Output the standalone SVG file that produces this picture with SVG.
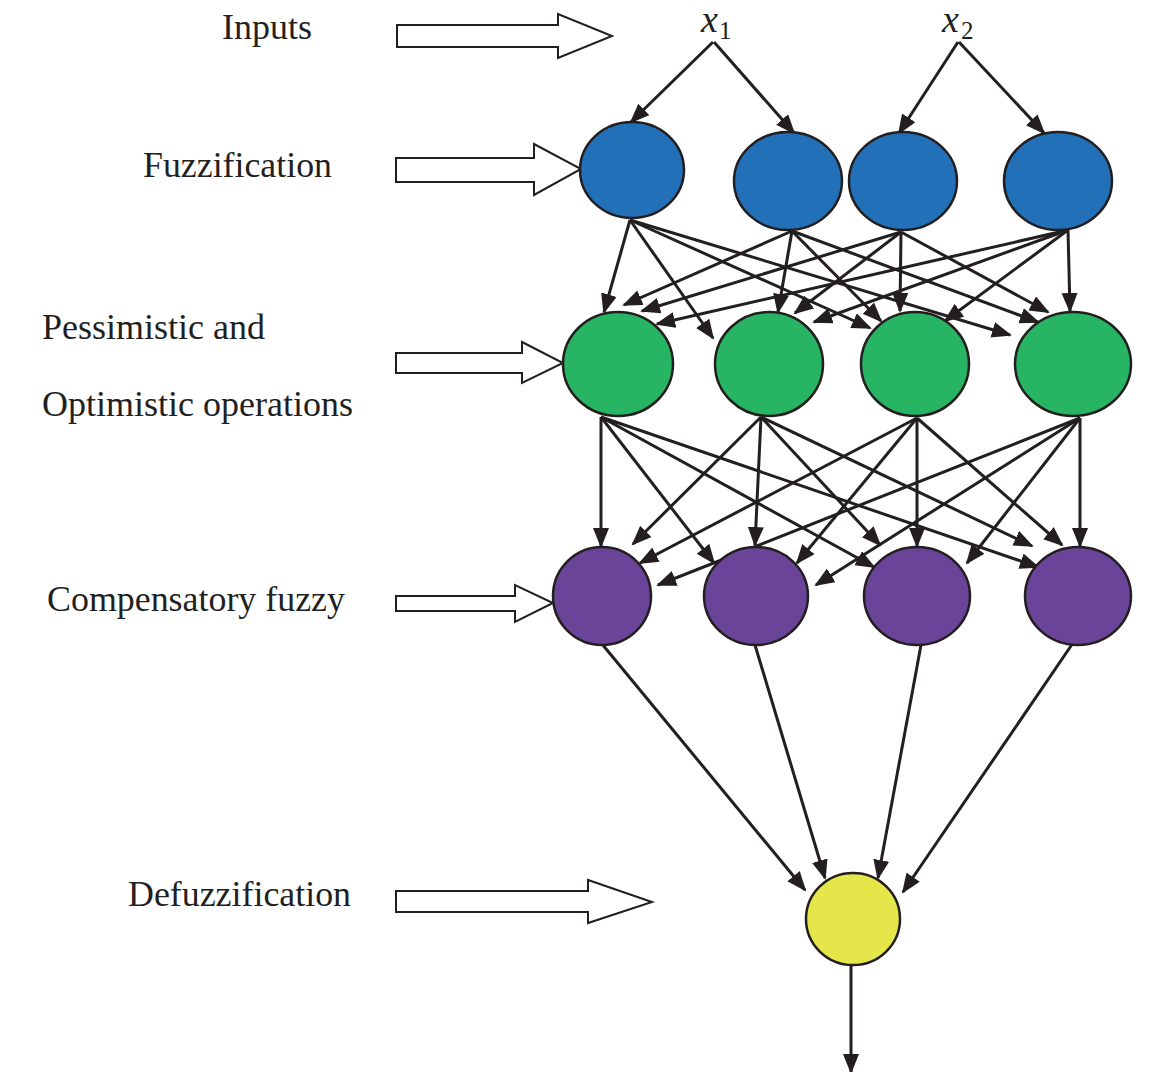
<svg xmlns="http://www.w3.org/2000/svg" width="1166" height="1072" viewBox="0 0 1166 1072">
<style>
.lbl{font-family:"Liberation Serif","Times New Roman",serif;font-size:35px;fill:#231f20}
.var{font-family:"Liberation Serif","Times New Roman",serif;font-style:italic;font-size:38px;fill:#231f20}
.sub{font-family:"Liberation Serif","Times New Roman",serif;font-size:25px;fill:#231f20}
.hollow{fill:#fff;stroke:#231f20;stroke-width:2}
.node{stroke:#231f20;stroke-width:2.5}
.blue{fill:#2170b8}.green{fill:#27b463}.purple{fill:#6a4499}.yellow{fill:#e4e64a}
#connectors path{fill:none;stroke:#231f20;stroke-width:3;marker-end:url(#ah)}
</style>
<defs>
<marker id="ah" markerUnits="userSpaceOnUse" markerWidth="22" markerHeight="18" refX="18" refY="8" orient="auto">
<path d="M0,0 L20,8 L0,16 z" fill="#231f20"/>
</marker>
</defs>
<rect width="1166" height="1072" fill="#fff"/>
<g id="labels">
<text class="lbl" x="222" y="39" textLength="90" lengthAdjust="spacingAndGlyphs">Inputs</text>
<text class="lbl" x="143" y="177" textLength="189" lengthAdjust="spacingAndGlyphs">Fuzzification</text>
<text class="lbl" x="42" y="339" textLength="223" lengthAdjust="spacingAndGlyphs">Pessimistic and</text>
<text class="lbl" x="42" y="416" textLength="311" lengthAdjust="spacingAndGlyphs">Optimistic operations</text>
<text class="lbl" x="47" y="611" textLength="298" lengthAdjust="spacingAndGlyphs">Compensatory fuzzy</text>
<text class="lbl" x="128" y="906" textLength="223" lengthAdjust="spacingAndGlyphs">Defuzzification</text>
<text class="var" x="701" y="32">x</text><text class="sub" x="719" y="39">1</text>
<text class="var" x="942" y="32">x</text><text class="sub" x="961" y="39">2</text>
</g>
<g id="stage-arrows">
<polygon class="hollow" points="397,25 558,25 558,14 612,36 558,58 558,47 397,47"/>
<polygon class="hollow" points="396,158 534,158 534,144 581,169 534,195 534,182 396,182"/>
<polygon class="hollow" points="396,353 522,353 522,342 563,363 522,383 522,373 396,373"/>
<polygon class="hollow" points="396,596 515,596 515,585 553,603 515,622 515,611 396,611"/>
<polygon class="hollow" points="396,891 588,891 588,880 652,902 588,923 588,912 396,912"/>
</g>
<g id="connectors">
<path d="M713,42 L631,122"/>
<path d="M714,42 L794,133"/>
<path d="M958,42 L899,133"/>
<path d="M959,42 L1044,133"/>
<path d="M630,220 L604,312"/>
<path d="M630,220 L713,338"/>
<path d="M630,220 L870,328"/>
<path d="M630,220 L1010,335"/>
<path d="M792,231 L624,305"/>
<path d="M792,231 L778,312"/>
<path d="M792,231 L881,321"/>
<path d="M792,231 L1038,322"/>
<path d="M901,232 L642,311"/>
<path d="M901,232 L795,313"/>
<path d="M901,232 L900,311"/>
<path d="M901,232 L1048,312"/>
<path d="M1068,230 L657,324"/>
<path d="M1068,230 L814,322"/>
<path d="M1068,230 L945,321"/>
<path d="M1068,230 L1070,311"/>
<path d="M601,417 L601,546"/>
<path d="M601,417 L714,563"/>
<path d="M601,417 L874,567"/>
<path d="M601,417 L1038,567"/>
<path d="M761,417 L633,544"/>
<path d="M761,417 L755,545"/>
<path d="M761,417 L880,545"/>
<path d="M761,417 L1032,546"/>
<path d="M917,418 L640,563"/>
<path d="M917,418 L797,563"/>
<path d="M917,418 L917,546"/>
<path d="M917,418 L1062,545"/>
<path d="M1080,418 L658,585"/>
<path d="M1080,418 L816,585"/>
<path d="M1080,418 L967,563"/>
<path d="M1080,418 L1080,546"/>
<path d="M602,644 L805,890"/>
<path d="M755,645 L825,878"/>
<path d="M921,645 L878,878"/>
<path d="M1073,643 L903,892"/>
<path d="M851,965 L851,1072"/>
</g>
<g id="node-b1"><ellipse class="node blue" cx="632" cy="170" rx="52" ry="48"/></g>
<g id="node-b2"><ellipse class="node blue" cx="788" cy="181" rx="54" ry="49"/></g>
<g id="node-b3"><ellipse class="node blue" cx="903" cy="181" rx="54" ry="49"/></g>
<g id="node-b4"><ellipse class="node blue" cx="1058" cy="181" rx="54" ry="49"/></g>
<g id="node-g1"><ellipse class="node green" cx="618" cy="364" rx="55" ry="52"/></g>
<g id="node-g2"><ellipse class="node green" cx="769" cy="364" rx="54" ry="52"/></g>
<g id="node-g3"><ellipse class="node green" cx="915" cy="364" rx="54" ry="52"/></g>
<g id="node-g4"><ellipse class="node green" cx="1073" cy="364" rx="58" ry="52"/></g>
<g id="node-p1"><ellipse class="node purple" cx="602" cy="596" rx="49" ry="49"/></g>
<g id="node-p2"><ellipse class="node purple" cx="756" cy="596" rx="52" ry="49"/></g>
<g id="node-p3"><ellipse class="node purple" cx="917" cy="596" rx="53" ry="49"/></g>
<g id="node-p4"><ellipse class="node purple" cx="1078" cy="596" rx="53" ry="49"/></g>
<g id="node-y"><ellipse class="node yellow" cx="853" cy="919" rx="47" ry="46"/></g>
</svg>
